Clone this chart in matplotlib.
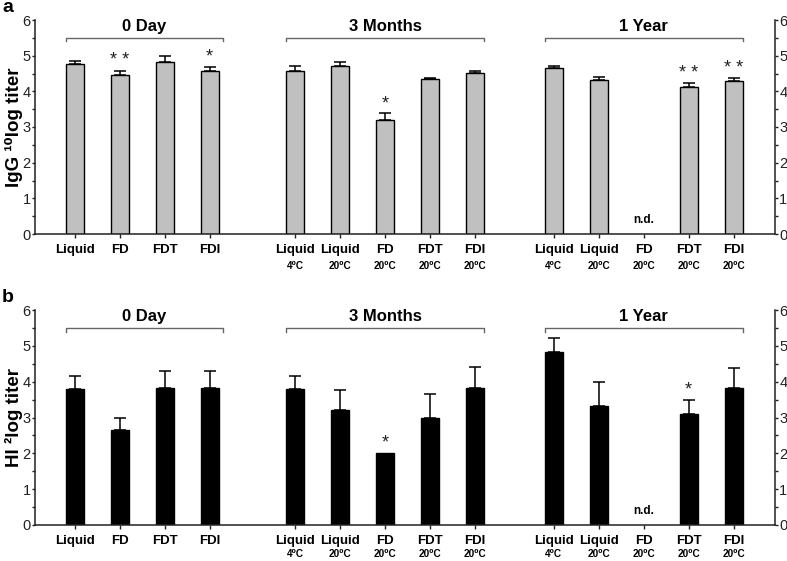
import matplotlib
matplotlib.use("Agg")
import matplotlib.pyplot as plt
import matplotlib.transforms as mtransforms
import numpy as np

plt.rcParams['font.family'] = ['Liberation Sans', 'DejaVu Sans']

# ---- data ----
groups = ["0 Day", "3 Months", "1 Year"]
group_sizes = [4, 5, 5]
names = ["Liquid", "FD", "FDT", "FDI",
         "Liquid", "Liquid", "FD", "FDT", "FDI",
         "Liquid", "Liquid", "FD", "FDT", "FDI"]
sublabels = ["", "", "", "",
             "4⁰C", "20⁰C", "20⁰C", "20⁰C", "20⁰C",
             "4⁰C", "20⁰C", "20⁰C", "20⁰C", "20⁰C"]

igg_mean = [4.77, 4.46, 4.82, 4.56,
            4.57, 4.72, 3.21, 4.35, 4.52,
            4.65, 4.33, np.nan, 4.11, 4.30]
igg_err = [0.08, 0.12, 0.18, 0.13,
           0.14, 0.09, 0.17, 0.03, 0.06,
           0.06, 0.08, np.nan, 0.12, 0.06]
igg_stars = ["", "* *", "", "*",
             "", "", "*", "", "",
             "", "", "", "* *", "* *"]

hi_mean = [3.80, 2.66, 3.83, 3.83,
           3.80, 3.20, 2.00, 3.00, 3.82,
           4.83, 3.32, np.nan, 3.11, 3.81]
hi_err = [0.37, 0.34, 0.48, 0.48,
          0.37, 0.58, 0.0, 0.66, 0.60,
          0.38, 0.66, np.nan, 0.38, 0.56]
hi_stars = ["", "", "", "",
            "", "", "*", "", "",
            "", "", "", "*", ""]

nd_label = "n.d."

# ---- layout ----
group_start = [0.0, 4.9, 10.65]
pos = []
for gs, n in zip(group_start, group_sizes):
    pos += [gs + k for k in range(n)]
pos = np.array(pos)
bar_w = 0.4

W, H = 787, 561
fig = plt.figure(figsize=(W / 100, H / 100), dpi=100)

ax_top = fig.add_axes([35 / W, 1 - 234 / H, 740 / W, 214 / H])
ax_bot = fig.add_axes([35 / W, 1 - 525 / H, 740 / W, 215 / H])

spine_col = '#222222'

def style(ax, mean, err, stars, color, ylabel, letter, sub_off):
    m = np.array(mean, dtype=float)
    e = np.array(err, dtype=float)
    valid = ~np.isnan(m)
    ax.bar(pos[valid], m[valid], width=bar_w, color=color,
           edgecolor='black', linewidth=1.0, zorder=2)
    ev = valid & (e > 0)
    ax.errorbar(pos[ev], m[ev], yerr=[np.zeros(ev.sum()), e[ev]],
                fmt='none', ecolor='black', elinewidth=1.1,
                capsize=4, capthick=1.1, zorder=1)
    for i in range(len(pos)):
        if stars[i]:
            top = m[i] + (e[i] if e[i] > 0 else 0)
            ax.text(pos[i], top + 0.04, stars[i], ha='center', va='bottom',
                    fontsize=13, color='#222222')
        if np.isnan(m[i]):
            ax.text(pos[i], 0.4, nd_label, ha='center', va='center',
                    fontsize=8.5, fontweight='bold')
    ax.set_xlim(-0.88, 15.57)
    ax.set_ylim(0, 6)
    ax.set_yticks(np.arange(0, 7, 1))
    ax.set_yticks(np.arange(0.5, 6, 1), minor=True)
    ax.tick_params(axis='y', which='both', direction='out', colors=spine_col,
                   labelsize=10.5, left=True, right=True, labelleft=True,
                   labelright=True, pad=0.5)
    ax.tick_params(axis='y', which='major', length=2.5, width=1)
    ax.tick_params(axis='y', which='minor', length=2, width=1)
    ax.set_xticks(pos)
    ax.set_xticklabels(names, fontsize=9.5, fontweight='bold')
    ax.tick_params(axis='x', direction='out', length=3, width=1,
                   colors=spine_col, pad=4)
    for lab in ax.get_xticklabels():
        lab.set_color('black')
    for lab in ax.get_yticklabels():
        lab.set_color('#222222')
    trans = mtransforms.blended_transform_factory(ax.transData, ax.transAxes)
    for i, s in enumerate(sublabels):
        if s:
            ax.text(pos[i], 0, s,
                    transform=trans + mtransforms.ScaledTranslation(0, -sub_off / 100, fig.dpi_scale_trans),
                    ha='center', va='center', fontsize=7.2, fontweight='bold')
    ax.spines['top'].set_visible(False)
    for sp in ['left', 'right', 'bottom']:
        ax.spines[sp].set_color(spine_col)
        ax.spines[sp].set_linewidth(1.1)
    idx = 0
    for g, n in zip(groups, group_sizes):
        x0 = pos[idx] - bar_w / 2
        x1 = pos[idx + n - 1] + bar_w / 2
        if idx == 0:
            x1 += 0.1
        ax.plot([x0, x0, x1, x1], [5.4, 5.5, 5.5, 5.4], color='#666666',
                lw=1.0, clip_on=False, zorder=3)
        ax.text((x0 + x1) / 2, 5.82, g, ha='center', va='center',
                fontsize=12, fontweight='bold', clip_on=False)
        idx += n
    ax.set_ylabel(ylabel, fontsize=13.5, fontweight='bold')
    ax.yaxis.set_label_coords(-12 / 740, 0.5)
    ax.text(-33 / 740, 1.058, letter, transform=ax.transAxes, fontsize=14,
            fontweight='bold', ha='left', va='center')

style(ax_top, igg_mean, igg_err, igg_stars, '#c0c0c0', 'IgG ¹⁰log titer', 'a', 32)
style(ax_bot, hi_mean, hi_err, hi_stars, 'black', 'HI ²log titer', 'b', 29)

fig.savefig('out.png', dpi=100)
